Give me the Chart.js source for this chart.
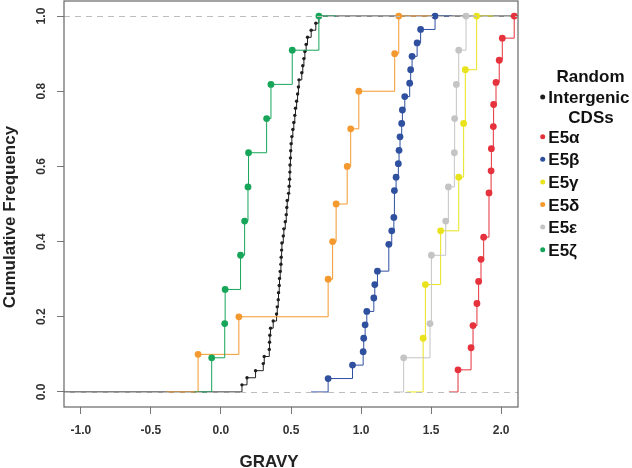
<!DOCTYPE html>
<html>
<head>
<meta charset="utf-8">
<script src="https://cdn.jsdelivr.net/npm/chart.js@4.4.0/dist/chart.umd.min.js"></script>
<style>
  html, body { margin: 0; padding: 0; background: #fff; }
  canvas { display: block; }
</style>
</head>
<body>
<canvas id="myChart" width="632" height="468"></canvas>
<script>
// GRAVY values, one array per group
const seriesNames = ['Random Intergenic CDSs', 'E5\u03b1', 'E5\u03b2', 'E5\u03b3', 'E5\u03b4', 'E5\u03b5', 'E5\u03b6'];
const randomIntergenic = [0.150, 0.186, 0.247, 0.302, 0.309, 0.345, 0.347, 0.349, 0.354, 0.373, 0.397, 0.402, 0.409,
  0.411, 0.416, 0.418, 0.423, 0.428, 0.430, 0.433, 0.435, 0.445, 0.449, 0.459, 0.466, 0.470, 0.473, 0.483, 0.487,
  0.490, 0.492, 0.493, 0.496, 0.498, 0.501, 0.506, 0.513, 0.520, 0.527, 0.532, 0.540, 0.547, 0.553, 0.557, 0.577,
  0.584, 0.592, 0.599, 0.608, 0.618, 0.644, 0.677, 0.699];
const e5Alpha = [1.692, 1.785, 1.799, 1.827, 1.839, 1.856, 1.875, 1.913, 1.913, 1.928, 1.930, 1.944, 1.946, 1.963,
  1.986, 2.008, 2.093];
const e5Beta = [0.765, 0.939, 1.015, 1.019, 1.029, 1.041, 1.091, 1.098, 1.117, 1.198, 1.198, 1.219, 1.234, 1.238,
  1.238, 1.250, 1.266, 1.271, 1.278, 1.290, 1.295, 1.312, 1.347, 1.354, 1.364, 1.400, 1.425, 1.528];
const e5Gamma = [1.443, 1.459, 1.568, 1.697, 1.732, 1.744, 1.825];
const e5Delta = [-0.163, 0.128, 0.765, 0.797, 0.822, 0.901, 0.926, 0.984, 1.240, 1.269];
const e5Epsilon = [1.304, 1.492, 1.502, 1.502, 1.604, 1.623, 1.666, 1.668, 1.680, 1.697, 1.749];
const e5Zeta = [-0.066, 0.027, 0.030, 0.140, 0.169, 0.193, 0.197, 0.326, 0.357, 0.509, 0.699];

const xTicks = [-1.0, -0.5, 0.0, 0.5, 1.0, 1.5, 2.0];
const yTicks = [0.0, 0.2, 0.4, 0.6, 0.8, 1.0];

const colors = ['#1e1e1e', '#e5323c', '#2f4f9f', '#e9e31e', '#f4992f', '#c4c4c4', '#17a55a'];
const allValues = [randomIntergenic, e5Alpha, e5Beta, e5Gamma, e5Delta, e5Epsilon, e5Zeta];

// R style axis limits: range extended by 4%
const XMIN = -1.12, XMAX = 2.12;
const YMIN = -0.04, YMAX = 1.04;
const FONT = "'Liberation Sans', Arial, Helvetica, sans-serif";

// empirical cdf, a point on top of each jump
function ecdfPoints(values) {
  const s = [...values].sort((a, b) => a - b);
  const n = s.length;
  const pts = [];
  s.forEach((v, i) => {
    if (i < n - 1 && s[i + 1] === v) return;
    pts.push({ x: v, y: (i + 1) / n });
  });
  return pts;
}

// how far the step line runs past the first / last knot (like plot.stepfun)
function stepReach(values) {
  const u = [...new Set(values)].sort((a, b) => a - b);
  const diffs = [];
  for (let i = 1; i < u.length; i++) diffs.push(u[i] - u[i - 1]);
  diffs.sort((a, b) => a - b);
  const m = diffs.length;
  const med = m % 2 ? diffs[(m - 1) / 2] : (diffs[m / 2 - 1] + diffs[m / 2]) / 2;
  return Math.max(0.08 * (u[u.length - 1] - u[0]), med);
}

const datasets = allValues.map((vals, k) => {
  const pts = ecdfPoints(vals);
  let lead, trail;
  if (k === 0) {
    lead = XMIN; trail = XMAX;
  } else {
    const dr = stepReach(vals);
    lead = Math.max(XMIN, pts[0].x - 2 * dr);
    trail = Math.min(XMAX, pts[pts.length - 1].x + 2 * dr);
  }
  const data = [{ x: lead, y: 0 }, ...pts, { x: trail, y: 1 }];
  const r = k === 0 ? 1.7 : 3.4;
  return {
    label: seriesNames[k],
    data: data,
    stepped: true,
    borderColor: colors[k],
    borderWidth: 1,
    pointBackgroundColor: colors[k],
    pointBorderWidth: 0,
    pointRadius: ctx => (ctx.dataIndex === 0 || ctx.dataIndex === data.length - 1) ? 0 : r,
    pointHoverRadius: ctx => (ctx.dataIndex === 0 || ctx.dataIndex === data.length - 1) ? 0 : r,
    fill: false,
    clip: 5
  };
});
// index 0 is painted last, so put the black series at the end
datasets.reverse();

const framePlugin = {
  id: 'frame',
  afterDatasetsDraw(chart) {
    const { ctx, chartArea: a, scales } = chart;
    ctx.save();
    ctx.strokeStyle = '#bdbdbd';
    ctx.lineWidth = 1;
    ctx.setLineDash([6, 5]);
    [0, 1].forEach(v => {
      const y = Math.round(scales.y.getPixelForValue(v)) + 0.5;
      ctx.beginPath();
      ctx.moveTo(a.left, y);
      ctx.lineTo(a.right, y);
      ctx.stroke();
    });
    ctx.setLineDash([]);
    ctx.strokeStyle = '#666';
    ctx.lineWidth = 1.2;
    ctx.strokeRect(a.left, a.top, a.right - a.left, a.bottom - a.top);
    ctx.restore();
  },
  afterDraw(chart) {
    const { ctx, scales } = chart;
    ctx.save();
    // y tick labels, turned like R's
    ctx.fillStyle = '#333';
    ctx.font = 'bold 12px ' + FONT;
    ctx.textAlign = 'center';
    ctx.textBaseline = 'alphabetic';
    yTicks.forEach(v => {
      const y = scales.y.getPixelForValue(v);
      ctx.save();
      ctx.translate(45, y);
      ctx.rotate(-Math.PI / 2);
      ctx.fillText(v.toFixed(1), 0, 0);
      ctx.restore();
    });
    // axis titles
    ctx.fillStyle = '#222';
    ctx.font = 'bold 17px ' + FONT;
    ctx.fillText('GRAVY', 269, 467);
    ctx.save();
    ctx.translate(15, 217);
    ctx.rotate(-Math.PI / 2);
    ctx.fillText('Cumulative Frequency', 0, 0);
    ctx.restore();

    // legend
    ctx.fillStyle = '#111';
    const bx = 542.7, tx = 548.3;
    const first = seriesNames[0].split(' ');
    ctx.textAlign = 'center';
    ctx.fillText(first[0], 590.5, 82);
    ctx.fillText(first[2], 591, 122.7);
    ctx.textAlign = 'left';
    const dot = (c, y) => {
      ctx.fillStyle = c;
      ctx.beginPath();
      ctx.arc(bx, y, 2.5, 0, Math.PI * 2);
      ctx.fill();
      ctx.fillStyle = '#111';
    };
    dot(colors[0], 97);
    ctx.fillText(first[1], tx, 103);
    for (let k = 1; k < seriesNames.length; k++) {
      const base = 142.7 + 22.6 * (k - 1);
      dot(colors[k], base - 6);
      ctx.fillText(seriesNames[k], tx, base);
    }
    ctx.restore();
  }
};

const cxt = document.getElementById('myChart').getContext('2d');
const myChart = new Chart(cxt, {
  type: 'line',
  data: { datasets: datasets },
  options: {
    responsive: false,
    animation: false,
    devicePixelRatio: 1,
    layout: { padding: { left: 0, right: 114, top: 1, bottom: 0 } },
    plugins: { legend: { display: false }, tooltip: { enabled: false } },
    scales: {
      x: {
        type: 'linear',
        min: XMIN,
        max: XMAX,
        afterBuildTicks: s => { s.ticks = xTicks.map(v => ({ value: v })); },
        afterFit: s => { s.height = 61; },
        grid: { drawOnChartArea: false, drawTicks: true, tickLength: 7, color: '#777' },
        border: { display: false },
        ticks: {
          autoSkip: false,
          maxRotation: 0,
          padding: 9,
          color: '#333',
          font: { family: FONT, size: 12, weight: 'bold' },
          callback: v => v.toFixed(1)
        }
      },
      y: {
        type: 'linear',
        min: YMIN,
        max: YMAX,
        afterBuildTicks: s => { s.ticks = yTicks.map(v => ({ value: v })); },
        afterFit: s => { s.width = 64; },
        grid: { drawOnChartArea: false, drawTicks: true, tickLength: 7, color: '#777' },
        border: { display: false },
        ticks: { display: false }
      }
    }
  },
  plugins: [framePlugin]
});
</script>
</body>
</html>
